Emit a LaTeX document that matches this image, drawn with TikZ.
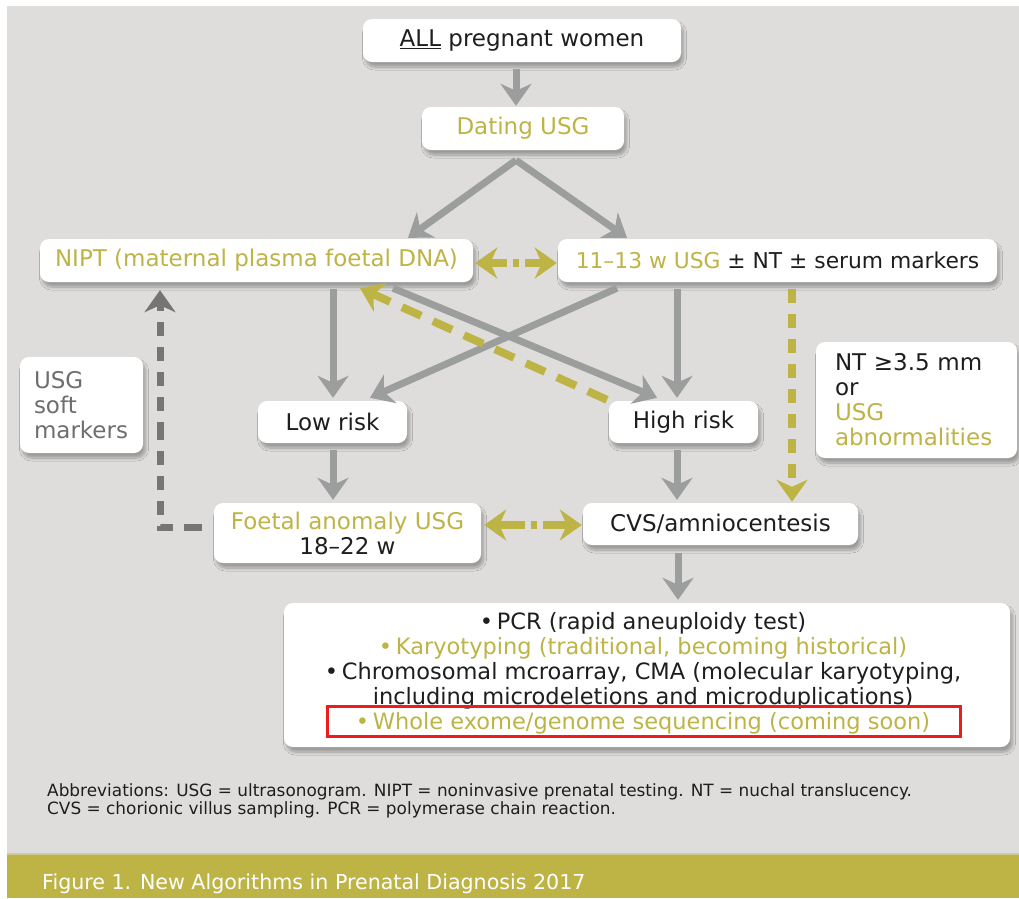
\documentclass[tikz,border=0pt]{standalone}
\usepackage{fontspec}
\setmainfont{DejaVu Sans}
\usetikzlibrary{arrows.meta,calc,shadows.blur}
\definecolor{panel}{HTML}{DEDDDB}
\definecolor{olive}{HTML}{BEB446}
\definecolor{oliveedge}{HTML}{CFCA98}
\definecolor{arrowgray}{HTML}{9C9E9E}
\definecolor{dashgray}{HTML}{757575}
\definecolor{ink}{HTML}{1E1E1E}
\definecolor{softink}{HTML}{6E6E6E}
\definecolor{hilite}{HTML}{EE1C1C}
\begin{document}
\begin{tikzpicture}[x=1pt,y=-1pt,
  box/.style={fill=white, rounded corners=9pt, inner sep=0pt, text=ink, align=center,
    font=\fontsize{23}{25}\selectfont,
    blur shadow={shadow xshift=2.5pt, shadow yshift=-5pt, shadow blur radius=3pt,
      shadow blur steps=8, shadow opacity=30}},
  tip/.style={-{Stealth[length=22pt,width=31pt,inset=7pt]}},
  garr/.style={draw=arrowgray, line width=7pt, tip},
  yarr/.style={draw=olive, line width=8pt, tip},
  ydash/.style={yarr, dash pattern=on 14pt off 11pt},
  gdash/.style={draw=dashgray, line width=7pt, dash pattern=on 14pt off 11pt, tip},
  redframe/.style={draw=hilite, line width=3pt, inner sep=0pt}]

\useasboundingbox (0,0) rectangle (1019,898);
% page, panel and caption band
\fill[white] (0,0) rectangle (1019,898);
\fill[panel] (7,6) rectangle (1019,854);
\fill[olive] (7,854) rectangle (1019,898);
\draw[oliveedge, line width=1.5pt] (7,854) -- (1019,854);

% boxes
\node[box, minimum width=318pt, minimum height=43pt] (all) at (522,40.5) {\underline{ALL} pregnant women};
\node[box, minimum width=202pt, minimum height=43pt, text=olive] (dating) at (523,128.5) {Dating USG};
\node[box, minimum width=433pt, minimum height=43pt, text=olive] (nipt) at (256.5,260.5) {NIPT (maternal plasma foetal DNA)};
\node[box, minimum width=439pt, minimum height=43pt, font=\fontsize{21.8}{25}\selectfont] (scan) at (777.5,260.5)
  {\textcolor{olive}{11–13 w USG} ± NT ± serum markers};
\node[box, minimum width=149pt, minimum height=42pt] (low) at (332.5,422) {Low risk};
\node[box, minimum width=149pt, minimum height=42pt] (high) at (683.5,422) {High risk};
\node[box, minimum width=123pt, minimum height=96pt, text width=95pt, align=left, text=softink] (soft) at (81.5,405) {USG\\soft\\markers};
\node[box, minimum width=201pt, minimum height=116pt, text width=163pt, align=left] (nt) at (916.5,400) {NT ≥3.5 mm\\or\\\textcolor{olive}{USG}\\\textcolor{olive}{abnormalities}};
\node[box, minimum width=267pt, minimum height=60pt] (foetal) at (347.5,533) {\textcolor{olive}{Foetal anomaly USG}\\18–22 w};
\node[box, minimum width=275pt, minimum height=42pt] (cvs) at (720.5,524) {CVS/amniocentesis};
\node[box, minimum width=726pt, minimum height=144pt] (tests) at (647,675) {};
\node[inner sep=0pt, align=center, text=ink, font=\fontsize{22.5}{25}\selectfont] (testlist) at (643,673.5)
  {•\,PCR (rapid aneuploidy test)\\
   \textcolor{olive}{•\,Karyotyping (traditional, becoming historical)}\\
   •\,Chromosomal mcroarray, CMA (molecular karyotyping,\\
   including microdeletions and microduplications)\\
   \textcolor{olive}{•\,Whole exome/genome sequencing (coming soon)}};
\node[redframe, minimum width=633pt, minimum height=30pt] (wes) at (643.5,721) {};

% solid flow arrows
\draw[garr] ($(all.south)+(-6,7)$) -- ($(dating.north)+(-7,-1)$);
\draw[garr] ($(dating.south)+(-7,10)$) -- ($(nipt.north)+(151.5,-1)$);
\draw[garr] ($(dating.south)+(-7,10)$) -- ($(scan.north)+(-150.5,-1)$);
\draw[garr] ($(nipt.south)+(76.5,7)$) -- ($(low.north)+(0.5,-3)$);
\draw[garr] ($(nipt.south)+(136.5,6)$) -- ($(high.north)+(-26.5,-3)$);
\draw[garr] ($(scan.south)+(-160.5,6)$) -- ($(low.north)+(37.5,-3)$);
\draw[garr] ($(scan.south)+(-100.5,7)$) -- ($(high.north)+(-6.5,-3)$);
\draw[garr] ($(low.south)+(0.5,7)$) -- ($(foetal.north)+(-14.5,-3)$);
\draw[garr] ($(high.south)+(-6.5,7)$) -- ($(cvs.north)+(-43.5,-3)$);
\draw[garr] ($(cvs.south)+(-42.5,8)$) -- ($(tests.north)+(31,-3)$);

% dashed arrows
\draw[ydash, dash pattern=on 21pt off 13pt] ($(high.north)+(-76.5,-1)$) -- ($(nipt.south)+(103.5,6)$);
\draw[ydash] ($(scan.south)+(14.5,7)$) -- ($(cvs.north)+(71.5,-1)$);
\draw[gdash, dash pattern=on 18pt off 11pt on 14pt off 11pt on 14pt off 11pt on 14pt off 11pt on 14pt off 11pt]
  ($(foetal.west)+(-12,-6)$) -| ($(nipt.south)+(-96.5,8)$);

% two-way links: dash, dot, dash between opposing heads
\coordinate (m1) at ($(nipt.east)!0.5!(scan.west)+(0,2.5)$);
\draw[yarr] ($(m1)+(-9,0)$) -- ($(nipt.east)+(2,2.5)$);
\draw[yarr] ($(m1)+(9,0)$) -- ($(scan.west)+(-1,2.5)$);
\fill[olive] ($(m1)+(-3,-4)$) rectangle ($(m1)+(3,4)$);
\coordinate (m2) at ($(foetal.east)!0.5!(cvs.west)+(2,-3.5)$);
\draw[yarr] ($(m2)+(-9,0)$) -- ($(foetal.east)+(3,-8)$);
\draw[yarr] ($(m2)+(9,0)$) -- ($(cvs.west)+(-1,1)$);
\fill[olive] ($(m2)+(-3,-4)$) rectangle ($(m2)+(3,4)$);

% notes and caption
\node[anchor=west, align=left, inner sep=0pt, text=ink, font=\fontsize{16.9}{18.5}\selectfont] (abbr) at (47,801)
  {Abbreviations: USG = ultrasonogram. NIPT = noninvasive prenatal testing. NT = nuchal translucency.\\
   CVS = chorionic villus sampling. PCR = polymerase chain reaction.};
\node[anchor=west, inner sep=0pt, text=white, font=\fontsize{20.6}{24}\selectfont] (caption) at (42,884)
  {Figure 1. New Algorithms in Prenatal Diagnosis 2017};
\end{tikzpicture}
\end{document}
